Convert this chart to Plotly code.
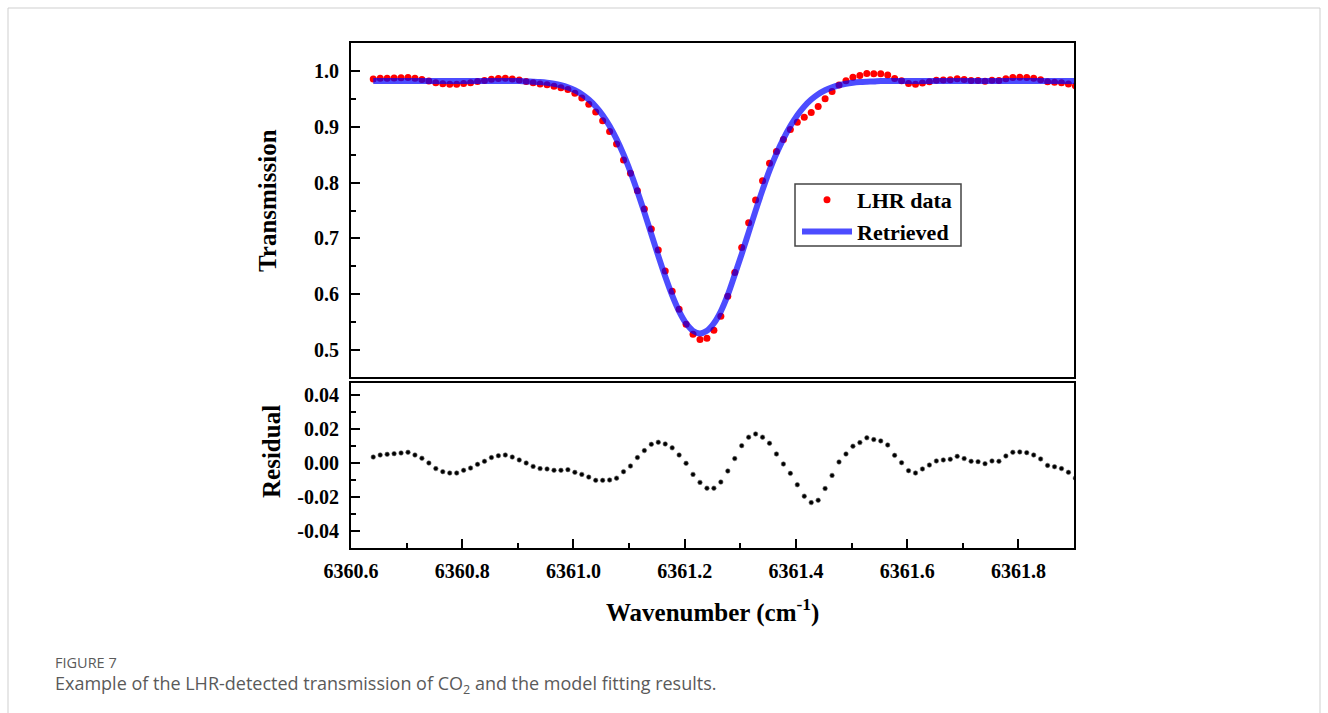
import plotly.graph_objects as go

# ---------------- data ----------------
wavenumber = [
    6360.6400, 6360.6525, 6360.6650, 6360.6775, 6360.6900, 6360.7025, 6360.7150, 6360.7275, 6360.7400, 6360.7525,
    6360.7650, 6360.7775, 6360.7900, 6360.8025, 6360.8150, 6360.8275, 6360.8400, 6360.8525, 6360.8650, 6360.8775,
    6360.8900, 6360.9025, 6360.9150, 6360.9275, 6360.9400, 6360.9525, 6360.9650, 6360.9775, 6360.9900, 6361.0025,
    6361.0150, 6361.0275, 6361.0400, 6361.0525, 6361.0650, 6361.0775, 6361.0900, 6361.1025, 6361.1150, 6361.1275,
    6361.1400, 6361.1525, 6361.1650, 6361.1775, 6361.1900, 6361.2025, 6361.2150, 6361.2275, 6361.2400, 6361.2525,
    6361.2650, 6361.2775, 6361.2900, 6361.3025, 6361.3150, 6361.3275, 6361.3400, 6361.3525, 6361.3650, 6361.3775,
    6361.3900, 6361.4025, 6361.4150, 6361.4275, 6361.4400, 6361.4525, 6361.4650, 6361.4775, 6361.4900, 6361.5025,
    6361.5150, 6361.5275, 6361.5400, 6361.5525, 6361.5650, 6361.5775, 6361.5900, 6361.6025, 6361.6150, 6361.6275,
    6361.6400, 6361.6525, 6361.6650, 6361.6775, 6361.6900, 6361.7025, 6361.7150, 6361.7275, 6361.7400, 6361.7525,
    6361.7650, 6361.7775, 6361.7900, 6361.8025, 6361.8150, 6361.8275, 6361.8400, 6361.8525, 6361.8650, 6361.8775,
    6361.8900, 6361.9025,
]

lhr_data = [
    0.9855, 0.9867, 0.9871, 0.9875, 0.9879, 0.9883, 0.9867, 0.9848, 0.9820, 0.9787,
    0.9769, 0.9761, 0.9761, 0.9777, 0.9790, 0.9812, 0.9830, 0.9852, 0.9863, 0.9867,
    0.9855, 0.9838, 0.9812, 0.9787, 0.9767, 0.9753, 0.9727, 0.9701, 0.9667, 0.9599,
    0.9516, 0.9405, 0.9263, 0.9106, 0.8914, 0.8691, 0.8405, 0.8166, 0.7855, 0.7527,
    0.7168, 0.6792, 0.6416, 0.6057, 0.5735, 0.5466, 0.5287, 0.5191, 0.5215, 0.5358,
    0.5609, 0.5968, 0.6392, 0.6840, 0.7281, 0.7688, 0.8034, 0.8346, 0.8558, 0.8774,
    0.8953, 0.9080, 0.9170, 0.9255, 0.9364, 0.9504, 0.9633, 0.9750, 0.9823, 0.9887,
    0.9920, 0.9955, 0.9950, 0.9950, 0.9926, 0.9865, 0.9822, 0.9775, 0.9761, 0.9785,
    0.9808, 0.9832, 0.9838, 0.9842, 0.9859, 0.9846, 0.9830, 0.9828, 0.9816, 0.9832,
    0.9830, 0.9861, 0.9883, 0.9885, 0.9881, 0.9867, 0.9844, 0.9806, 0.9798, 0.9787,
    0.9765, 0.9731,
]

retrieved = [
    0.982, 0.982, 0.982, 0.982, 0.982, 0.982, 0.982, 0.982, 0.982, 0.982,
    0.982, 0.982, 0.982, 0.982, 0.982, 0.982, 0.982, 0.982, 0.982, 0.982,
    0.982, 0.982, 0.9812, 0.9807, 0.9800, 0.9788, 0.9770, 0.9744, 0.9706, 0.9654,
    0.9583, 0.9488, 0.9365, 0.9208, 0.9014, 0.8780, 0.8505, 0.8191, 0.7842, 0.7468,
    0.7079, 0.6689, 0.6318, 0.5981, 0.5696, 0.5481, 0.5346, 0.5300, 0.5346, 0.5481,
    0.5696, 0.5990, 0.6350, 0.6720, 0.7110, 0.7500, 0.7870, 0.8220, 0.8520, 0.8785,
    0.9014, 0.9208, 0.9365, 0.9488, 0.9583, 0.9654, 0.9706, 0.9744, 0.9770, 0.9788,
    0.9800, 0.9807, 0.9812, 0.982, 0.982, 0.982, 0.982, 0.982, 0.982, 0.982,
    0.982, 0.982, 0.982, 0.982, 0.982, 0.982, 0.982, 0.982, 0.982, 0.982,
    0.982, 0.982, 0.982, 0.982, 0.982, 0.982, 0.982, 0.982, 0.982, 0.982,
    0.982, 0.982,
]

residual = [
    0.0035, 0.0047, 0.0051, 0.0055, 0.0059, 0.0063, 0.0047, 0.0028, 0.0000, -0.0033,
    -0.0051, -0.0059, -0.0059, -0.0043, -0.0030, -0.0008, 0.0010, 0.0032, 0.0043, 0.0047,
    0.0035, 0.0018, 0.0000, -0.0020, -0.0033, -0.0035, -0.0043, -0.0043, -0.0039, -0.0055,
    -0.0067, -0.0083, -0.0102, -0.0102, -0.0100, -0.0089, -0.0051, -0.0018, 0.0032, 0.0073,
    0.0110, 0.0122, 0.0112, 0.0089, 0.0047, -0.0002, -0.0067, -0.0114, -0.0148, -0.0148,
    -0.0112, -0.0047, 0.0026, 0.0102, 0.0152, 0.0171, 0.0152, 0.0116, 0.0053, -0.0006,
    -0.0061, -0.0128, -0.0195, -0.0233, -0.0219, -0.0150, -0.0073, 0.0006, 0.0053, 0.0099,
    0.0120, 0.0148, 0.0138, 0.0130, 0.0106, 0.0045, 0.0002, -0.0045, -0.0059, -0.0035,
    -0.0012, 0.0012, 0.0018, 0.0022, 0.0039, 0.0026, 0.0010, 0.0008, -0.0004, 0.0012,
    0.0010, 0.0041, 0.0063, 0.0065, 0.0061, 0.0047, 0.0024, -0.0014, -0.0022, -0.0033,
    -0.0055, -0.0089,
]

top_ticks = [0.5, 0.6, 0.7, 0.8, 0.9, 1.0]
top_ticklabels = ["0.5", "0.6", "0.7", "0.8", "0.9", "1.0"]
res_ticks = [-0.04, -0.02, 0.0, 0.02, 0.04]
res_ticklabels = ["-0.04", "-0.02", "0.00", "0.02", "0.04"]
x_ticks = [6360.6, 6360.8, 6361.0, 6361.2, 6361.4, 6361.6, 6361.8]
x_ticklabels = ["6360.6", "6360.8", "6361.0", "6361.2", "6361.4", "6361.6", "6361.8"]

# ---------------- figure ----------------
SERIF = "Liberation Serif"
tickfont = dict(family=SERIF, size=20, color="black", weight="bold")

fig = go.Figure()

fig.add_trace(go.Scatter(
    x=wavenumber, y=lhr_data, xaxis="x2", yaxis="y2", mode="markers",
    name="LHR data", marker=dict(color="#ff0000", size=7, line=dict(width=0)),
))
fig.add_trace(go.Scatter(
    x=wavenumber, y=retrieved, xaxis="x2", yaxis="y2", mode="lines",
    name="Retrieved", line=dict(color="rgba(0,0,255,0.7)", width=6, shape="spline"),
))
fig.add_trace(go.Scatter(
    x=wavenumber, y=residual, xaxis="x", yaxis="y", mode="markers",
    name="Residual", showlegend=False,
    marker=dict(color="black", size=4.5, line=dict(width=0.6, color="#666")),
))

L, R, T, B = 351, 254, 43, 165
H = 713 - T - B

def pyp(py):
    return (713 - B - py) / H

def pxp(px):
    return (px - L) / (1328 - L - R)

axis_common = dict(showline=True, linewidth=2, linecolor="black", mirror=True,
                   showgrid=False, zeroline=False)

fig.update_layout(
    width=1328, height=713,
    margin=dict(l=L, r=R, t=T, b=B),
    paper_bgcolor="white", plot_bgcolor="white",
    xaxis=dict(
        **axis_common, range=[6360.6, 6361.9], anchor="y",
        tickvals=x_ticks, ticktext=x_ticklabels, ticks="inside", ticklen=9, tickwidth=2,
        tickcolor="black", tickfont=tickfont, ticklabelstandoff=4,
        minor=dict(dtick=0.1, tick0=6360.6, ticks="inside", ticklen=5, tickwidth=2, tickcolor="black"),
    ),
    xaxis2=dict(
        **axis_common, range=[6360.6, 6361.9], anchor="y2", matches="x",
        showticklabels=False, ticks="",
    ),
    yaxis=dict(
        **axis_common, domain=[0, (548 - 383) / H], anchor="x",
        range=[-0.05, 0.04706],
        tickvals=res_ticks, ticktext=res_ticklabels, ticks="inside", ticklen=9, tickwidth=2,
        tickcolor="black", tickfont=tickfont, ticklabelstandoff=6,
        minor=dict(dtick=0.01, tick0=0, ticks="inside", ticklen=5, tickwidth=2, tickcolor="black"),
    ),
    yaxis2=dict(
        **axis_common, domain=[(548 - 377) / H, 1], anchor="x2",
        range=[0.452, 1.05],
        tickvals=top_ticks, ticktext=top_ticklabels, ticks="inside", ticklen=9, tickwidth=2,
        tickcolor="black", tickfont=tickfont, ticklabelstandoff=6,
        minor=dict(dtick=0.05, tick0=0, ticks="inside", ticklen=5, tickwidth=2, tickcolor="black"),
    ),
    legend=dict(
        x=pxp(797), y=pyp(179), xanchor="left", yanchor="top",
        borderwidth=0, bgcolor="rgba(0,0,0,0)",
        font=dict(family=SERIF, size=22, color="black", weight="bold"),
        itemwidth=50, tracegroupgap=0,
    ),
    showlegend=True,
)

title_font = dict(family=SERIF, size=25, color="black", weight="bold")
annotations = [
    dict(text="Transmission", x=pxp(268), y=pyp(201), textangle=-90, font=title_font),
    dict(text="Residual", x=pxp(271), y=pyp(452), textangle=-90, font=title_font),
    dict(text="Wavenumber (cm<sup>-1</sup>)", x=pxp(712), y=pyp(610), font=title_font),
    dict(text="FIGURE 7", x=pxp(53), y=pyp(662), xanchor="left",
         font=dict(family="Open Sans", size=14.5, color="#5a5a5a")),
    dict(text="Example of the LHR-detected transmission of CO<sub>2</sub> and the model fitting results.",
         x=pxp(53), y=pyp(684), xanchor="left",
         font=dict(family="Open Sans", size=18, color="#5a5a5a")),
]
for a in annotations:
    a.setdefault("xanchor", "center")
    fig.add_annotation(xref="paper", yref="paper", showarrow=False, yanchor="middle", **a)

# legend frame (drawn to the reference's box size)
fig.add_shape(type="rect", xref="paper", yref="paper",
              x0=pxp(795), x1=pxp(961), y0=pyp(246), y1=pyp(184),
              line=dict(color="#444444", width=1.5), fillcolor="white", layer="below")

# page frame
fig.add_shape(type="rect", xref="paper", yref="paper",
              x0=pxp(8), x1=pxp(1320), y0=pyp(730), y1=pyp(8),
              line=dict(color="#cfcfcf", width=1), layer="below")

fig.write_html("out.html")
